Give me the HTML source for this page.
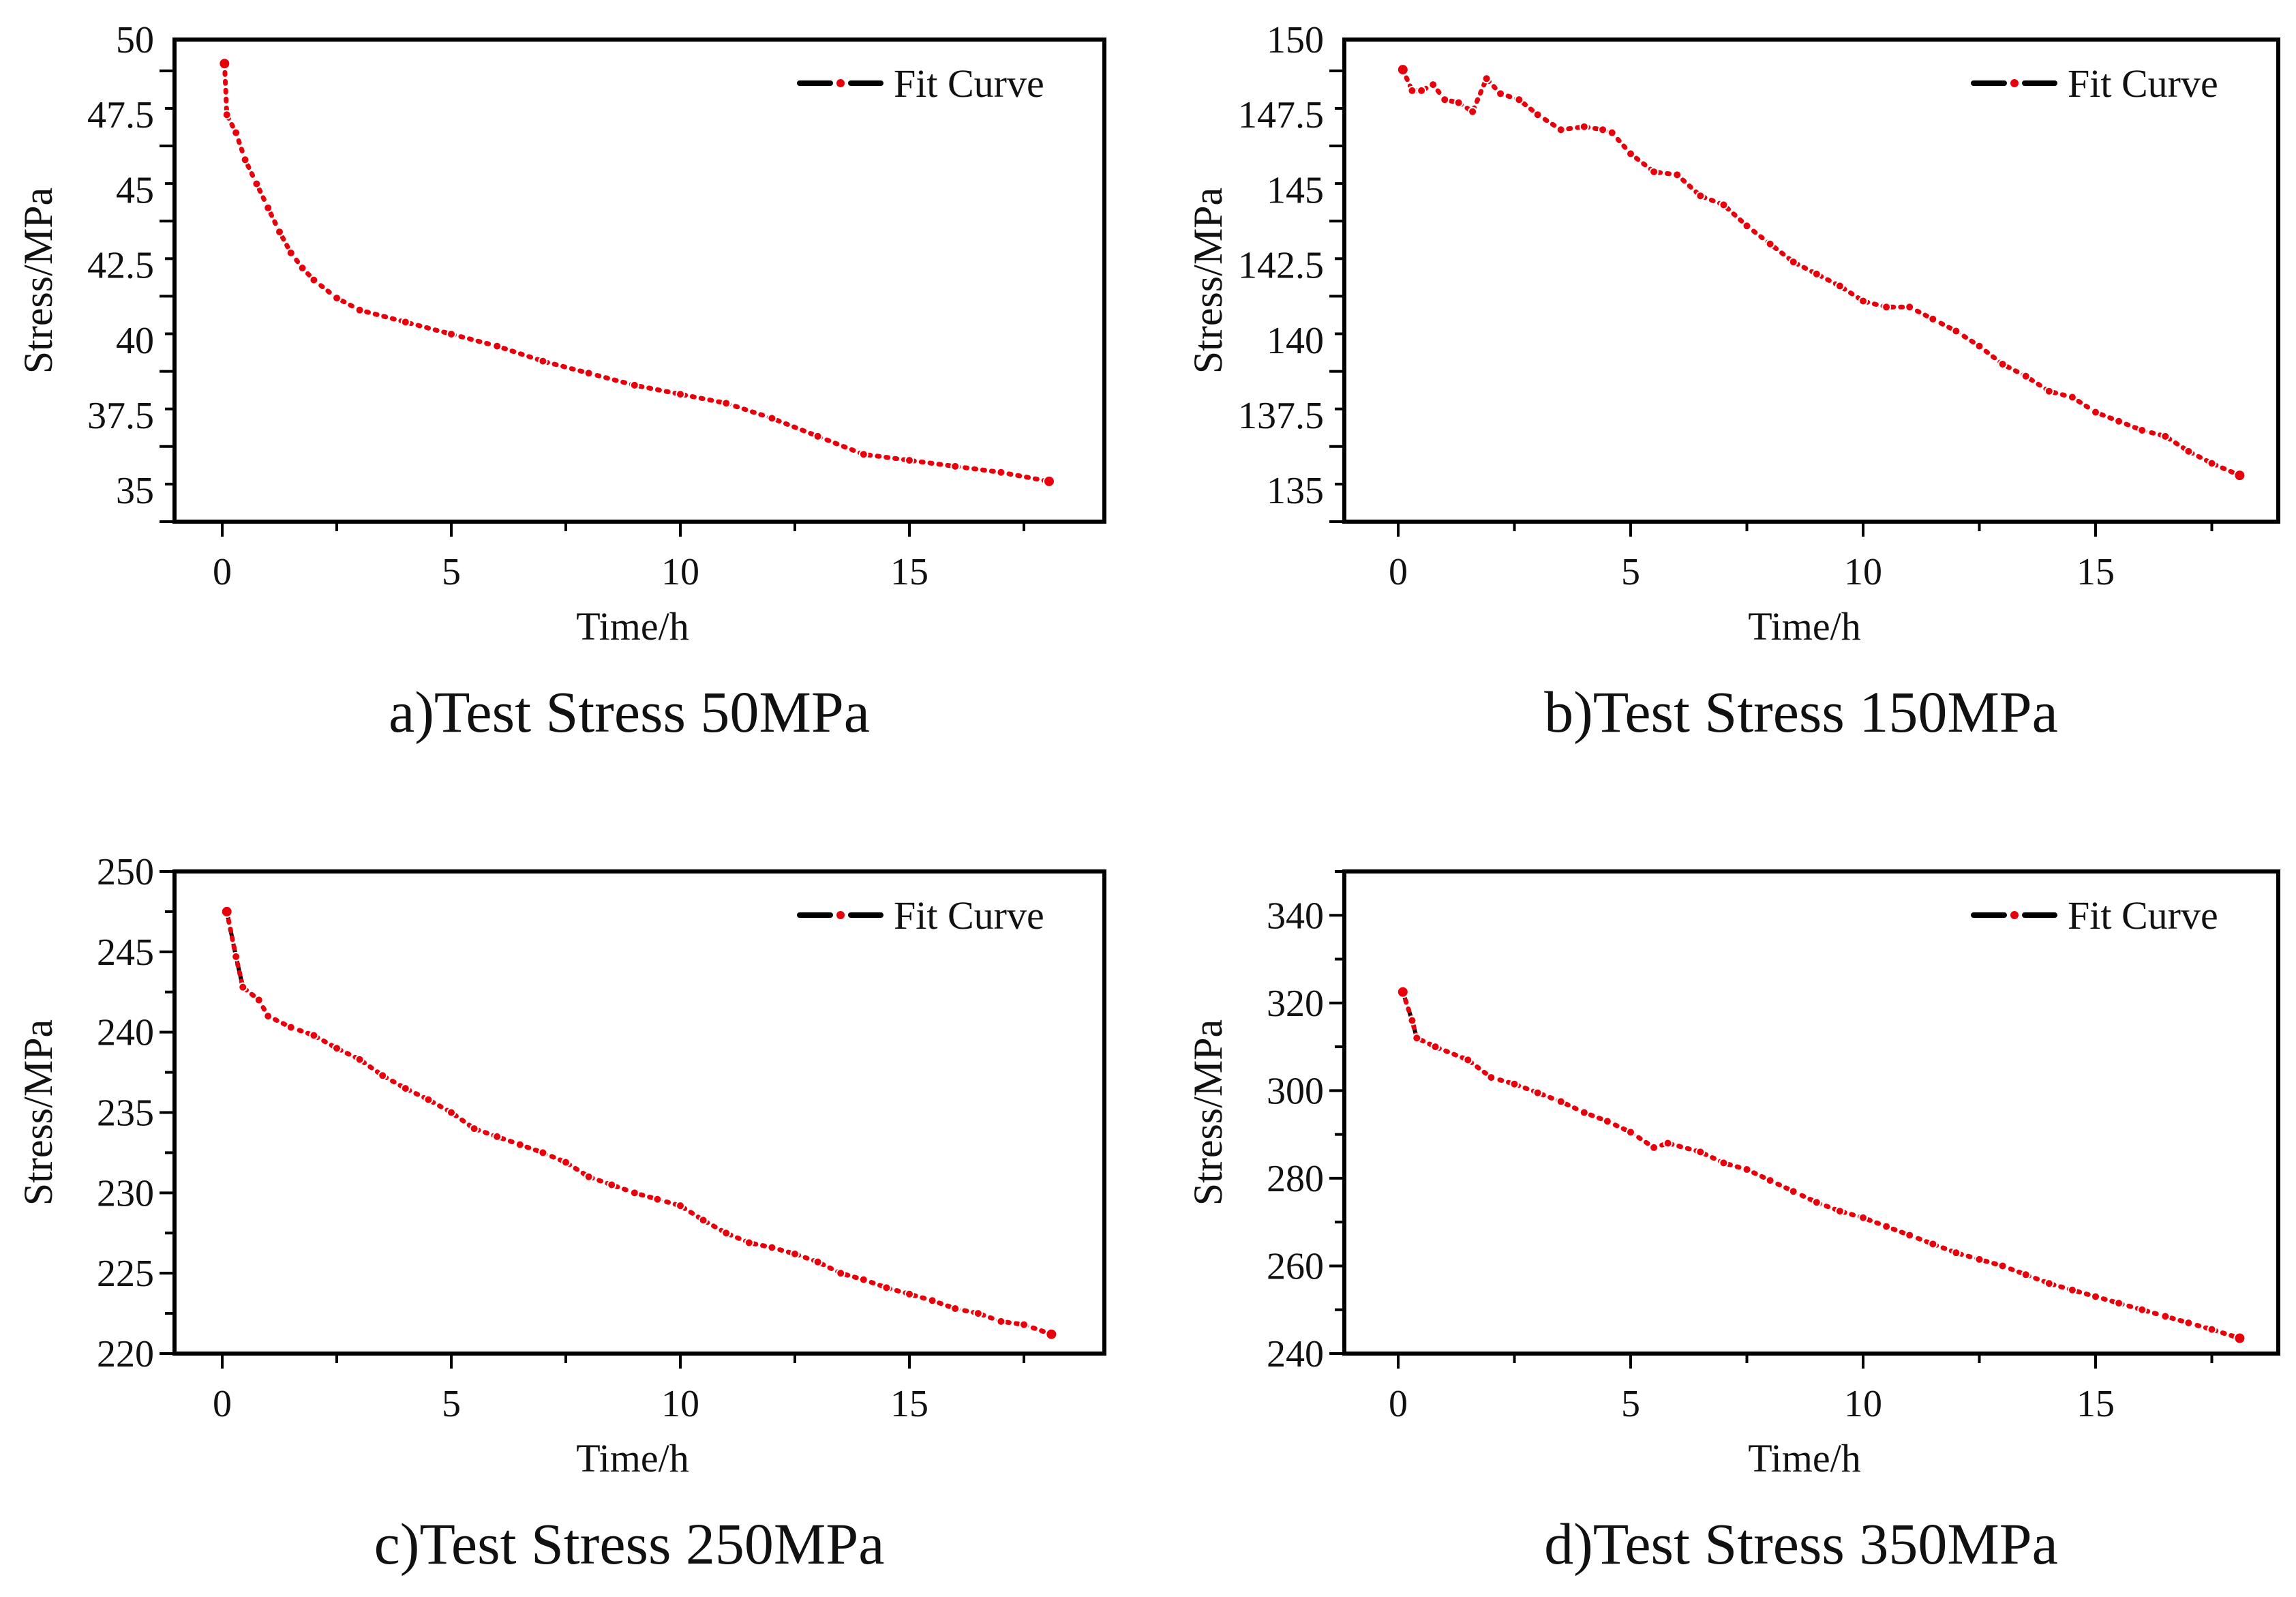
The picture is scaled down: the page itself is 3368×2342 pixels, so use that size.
<!DOCTYPE html>
<html><head><meta charset="utf-8">
<style>
html,body{margin:0;padding:0;background:#fff;}
svg{display:block;}
text{font-family:"Liberation Serif",serif;fill:#111;}
</style></head>
<body>
<svg id="fig" width="3368" height="2342" viewBox="0 0 3368 2342" xmlns="http://www.w3.org/2000/svg"></svg>
<script>
// ---- data ----
const timeA = [0.05,0.1,0.3,0.5,0.75,1.0,1.25,1.5,1.75,2,2.5,3,4,5,6,7,8,9,10,11,12,13,14,15,16,17,18.05];
const stressA = [49.2,47.5,46.9,46.0,45.2,44.4,43.6,42.9,42.4,42.0,41.4,41.0,40.6,40.2,39.8,39.3,38.9,38.5,38.2,37.9,37.4,36.8,36.2,36.0,35.8,35.6,35.3];
const timeB = [0.1,0.3,0.5,0.75,1.0,1.3,1.6,1.9,2.2,2.6,3,3.5,4,4.4,4.6,5,5.5,6,6.5,7,7.5,8,8.5,9,9.5,10,10.5,11,11.5,12,12.5,13,13.5,14,14.5,15,15.5,16,16.5,17,17.5,18.1];
const stressB = [149,148.3,148.3,148.5,148,147.9,147.6,148.7,148.2,148.0,147.5,147.0,147.1,147.0,146.9,146.2,145.6,145.5,144.8,144.5,143.8,143.2,142.6,142.2,141.8,141.3,141.1,141.1,140.7,140.3,139.8,139.2,138.8,138.3,138.1,137.6,137.3,137.0,136.8,136.3,135.9,135.5];
const timeC = [0.1,0.3,0.45,0.8,1,1.5,2,2.5,3,3.5,4,4.5,5,5.5,6,6.5,7,7.5,8,8.5,9,9.5,10,10.5,11,11.5,12,12.5,13,13.5,14,14.5,15,15.5,16,16.5,17,17.5,18.1];
const stressC = [247.5,244.7,242.8,242,241,240.3,239.8,239,238.3,237.3,236.5,235.8,235,234,233.5,233,232.5,231.9,231,230.5,230,229.6,229.2,228.3,227.5,226.9,226.6,226.2,225.7,225,224.6,224.1,223.7,223.3,222.8,222.5,222,221.8,221.2];
const timeD = [0.1,0.3,0.4,0.8,1.5,2,2.5,3,3.5,4,4.5,5,5.5,5.8,6.5,7,7.5,8,8.5,9,9.5,10,10.5,11,11.5,12,12.5,13,13.5,14,14.5,15,15.5,16,16.5,17,17.5,18.1];
const stressD = [322.5,316,312,310,307,303,301.5,299.5,297.5,295,293,290.5,287,288,286,283.5,282,279.5,277,274.5,272.5,271,269,267,265,263,261.5,260,258,256,254.5,253,251.5,250,248.5,247,245.5,243.5];
const xTicks = [0,5,10,15];
const yTicksA = ["35","37.5","40","42.5","45","47.5","50"];
const yTicksB = ["135","137.5","140","142.5","145","147.5","150"];
const yTicksC = ["220","225","230","235","240","245","250"];
const yTicksD = ["240","260","280","300","320","340"];
const captions = ["a)Test Stress  50MPa","b)Test Stress  150MPa","c)Test Stress  250MPa","d)Test Stress  350MPa"];

const NS="http://www.w3.org/2000/svg";
const svg=document.getElementById('fig');
function mk(tag,attrs,parent){const e=document.createElementNS(NS,tag);for(const k in attrs)e.setAttribute(k,attrs[k]);(parent||svg).appendChild(e);return e;}

function panel(id,L,R,T,B,x0px,x15px,yMin,yMax,yTicks,minorStep,times,vals,caption,fitN){
  const g=mk('g',{});
  
  
  const xs=t=>x0px+(x15px-x0px)*t/15;
  const ys=v=>B-(v-yMin)/(yMax-yMin)*(B-T);
  const fr=mk('rect',{x:L,y:T,width:R-L,height:B-T,fill:'none',stroke:'#000','stroke-width':6},g);
  
  
  for(let t=0;t<=17.5;t+=2.5){
    const major=(t%5===0);
    const tk=mk('line',{x1:xs(t),x2:xs(t),y1:B,y2:B+(major?22:14),stroke:'#000','stroke-width':4},g);
    
    
  }
  xTicks.forEach(t=>{
    const tx=mk('text',{x:xs(t),y:B+92,'text-anchor':'middle','font-size':56},g);
    tx.textContent=t;
    
    
  });
  for(let v=yMin;v<=yMax+1e-9;v+=minorStep){
    const k=Math.round((v-yMin)/minorStep);
    const major=(k%2===0);
    const tk=mk('line',{x1:L,x2:L-(major?22:14),y1:ys(v),y2:ys(v),stroke:'#000','stroke-width':4},g);
    
    
  }
  yTicks.forEach(s=>{
    const v=parseFloat(s);
    const tx=mk('text',{x:L-30,y:ys(v)+19,'text-anchor':'end','font-size':56},g);
    tx.textContent=s;
    
    
  });
  const xt=mk('text',{x:(L+R)/2-10,y:B+173,'text-anchor':'middle','font-size':58},g);
  xt.textContent='Time/h';
  
  
  const yt=mk('text',{x:0,y:0,'text-anchor':'middle','font-size':60,transform:`translate(${L-180},${(T+B)/2}) rotate(-90)`},g);
  yt.textContent='Stress/MPa';
  
  
  const fitPts=times.slice(0,fitN).map((t,i)=>xs(t)+','+ys(vals[i])).join(' ');
  const fit=mk('polyline',{points:fitPts,fill:'none',stroke:'#000','stroke-width':6,'stroke-dasharray':'18 6'},g);
  
  
  const pts=times.map((t,i)=>xs(t)+','+ys(vals[i])).join(' ');
  const pl=mk('polyline',{points:pts,fill:'none',stroke:'#e8000b','stroke-width':7,'stroke-dasharray':'3 10','stroke-linecap':'round'},g);
  
  
  times.forEach((t,i)=>{
    const c=mk('circle',{cx:xs(t),cy:ys(vals[i]),r:(i===0||i===times.length-1)?8:6,fill:'#e8000b',stroke:'#fff','stroke-width':2},g);
    
    
  });
  const lg=mk('g',{},g);
  
  
  const lx=R-447, ly=T+64;
  mk('line',{x1:lx,x2:lx+45,y1:ly,y2:ly,stroke:'#000','stroke-width':8,'stroke-linecap':'round'},lg);
  mk('line',{x1:lx+75,x2:lx+119,y1:ly,y2:ly,stroke:'#000','stroke-width':8,'stroke-linecap':'round'},lg);
  mk('circle',{cx:lx+60,cy:ly,r:6,fill:'#e8000b'},lg);
  const lt=mk('text',{x:lx+138,y:ly+20,'font-size':58},lg);
  lt.textContent='Fit Curve';
  const cp=mk('text',{x:(L+R)/2-15,y:B+308,'text-anchor':'middle','font-size':86},g);
  cp.setAttribute('xml:space','preserve');
  cp.textContent=caption;
  
  
}

panel('a',256,1620,58,765,326,1334,33.96,50,yTicksA,1.25,timeA,stressA,captions[0],1);
panel('b',1972,3342,58,765,2051,3074,133.96,150,yTicksB,1.25,timeB,stressB,captions[1],1);
panel('c',256,1620,1278,1985,326,1334,220,250,yTicksC,2.5,timeC,stressC,captions[2],3);
panel('d',1972,3342,1278,1985,2051,3074,240,350,yTicksD,10,timeD,stressD,captions[3],3);
</script>
</body></html>
